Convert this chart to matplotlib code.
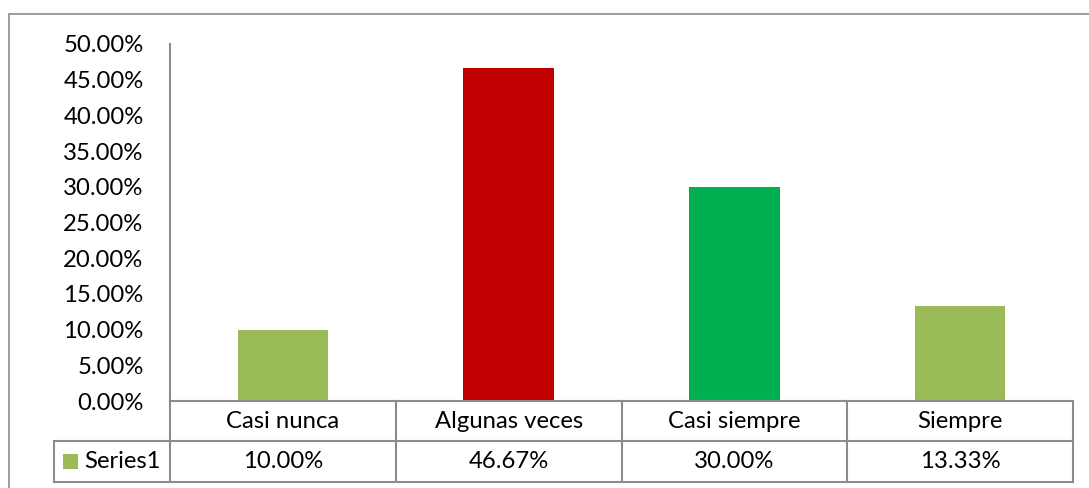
import matplotlib
matplotlib.use("Agg")
import matplotlib.pyplot as plt
from matplotlib.lines import Line2D
from matplotlib.patches import Rectangle
from matplotlib.ticker import FuncFormatter, MultipleLocator

categories = ["Casi nunca", "Algunas veces", "Casi siempre", "Siempre"]
values = [0.10, 0.4667, 0.30, 0.1333]
value_labels = ["10.00%", "46.67%", "30.00%", "13.33%"]
series_name = "Series1"
bar_colors = ["#9BBB59", "#C00000", "#00B050", "#9BBB59"]

W, H = 1089, 488
DPI = 100
plt.rcParams['font.family'] = ['Lato', 'DejaVu Sans']
FS = 17.2
GRID = "#8C8C8C"

fig = plt.figure(figsize=(W / DPI, H / DPI), dpi=DPI)

def fx(px):
    return px / W

def fy(py):
    return 1 - py / H

# outer chart border
fig.add_artist(Rectangle((fx(8.5), fy(500)), fx(1100 - 8.5), fy(14.5) - fy(500),
                         transform=fig.transFigure, fill=False, edgecolor=GRID, lw=1.2))

left, right, top, bottom = 170, 1073, 44, 401
ax = fig.add_axes([fx(left), fy(bottom), fx(right - left), fy(top) - fy(bottom)])
x = list(range(len(categories)))
ax.bar(x, values, width=0.4, color=bar_colors)
ax.set_xlim(-0.5, len(categories) - 0.5)
ax.set_ylim(0, 0.5)
ax.yaxis.set_major_locator(MultipleLocator(0.05))
ax.yaxis.set_major_formatter(FuncFormatter(lambda v, p: f"{v * 100:.2f}%"))
ax.tick_params(axis='y', length=0, pad=19, labelsize=FS)
ax.set_xticks([])
for s in ["top", "right", "bottom"]:
    ax.spines[s].set_visible(False)
ax.spines["left"].set_color(GRID)
ax.spines["left"].set_linewidth(1.5)

# data table
def hline(y, x0, x1):
    fig.add_artist(Line2D([fx(x0), fx(x1)], [fy(y), fy(y)], transform=fig.transFigure,
                          color=GRID, lw=1.5))

def vline(xp, y0, y1):
    fig.add_artist(Line2D([fx(xp), fx(xp)], [fy(y0), fy(y1)], transform=fig.transFigure,
                          color=GRID, lw=1.5))

row1, row2, row3 = 401, 441, 482
legend_left = 54
hline(row1, left, right)
hline(row2, legend_left, right)
hline(row3, legend_left, right)
vline(legend_left, row2, row3)
colw = (right - left) / len(categories)
for i in range(len(categories) + 1):
    vline(left + i * colw, row1, row3)

for i, (c, vl) in enumerate(zip(categories, value_labels)):
    cx = left + (i + 0.5) * colw
    fig.text(fx(cx), fy((row1 + row2) / 2), c, ha='center', va='center', fontsize=FS)
    fig.text(fx(cx), fy((row2 + row3) / 2), vl, ha='center', va='center', fontsize=FS)

fig.add_artist(Rectangle((fx(63), fy(469)), fx(15), fy(454) - fy(469),
                         transform=fig.transFigure, color=bar_colors[0], lw=0))
fig.text(fx(84), fy((row2 + row3) / 2), series_name, ha='left', va='center', fontsize=FS)

fig.savefig("out.png", dpi=DPI)
